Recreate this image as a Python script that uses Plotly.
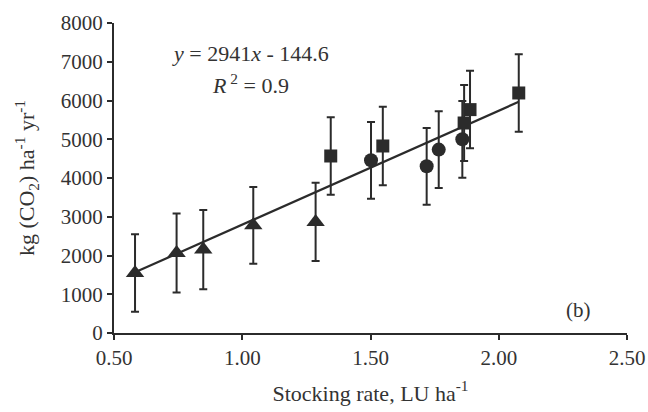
import plotly.graph_objects as go

# Data
tri_x = [0.582, 0.744, 0.848, 1.043, 1.286]
tri_y = [1548, 2065, 2152, 2779, 2865]
tri_err = [1000, 1020, 1020, 990, 1010]

cir_x = [1.502, 1.719, 1.766, 1.858]
cir_y = [4457, 4302, 4733, 4999]
cir_err = [990, 990, 990, 990]

sq_x = [1.345, 1.548, 1.865, 1.888, 2.078]
sq_y = [4568, 4826, 5419, 5765, 6194]
sq_err = [1000, 1010, 980, 1000, 1000]

slope = 2941
intercept = -144.6

all_x = tri_x + cir_x + sq_x
line_x = [min(all_x), max(all_x)]
line_y = [slope * v + intercept for v in line_x]

dark = "#2b2b2b"
font_family = "Liberation Serif, Times New Roman, serif"

fig = go.Figure()

fig.add_trace(go.Scatter(
    x=line_x, y=line_y, mode="lines",
    line=dict(color=dark, width=2.2), showlegend=False, hoverinfo="skip"))

def add_series(xs, ys, errs, symbol, size):
    fig.add_trace(go.Scatter(
        x=xs, y=ys, mode="markers",
        marker=dict(symbol=symbol, size=size, color=dark, line=dict(width=0)),
        error_y=dict(type="data", array=errs, visible=True, color=dark,
                     thickness=2, width=4),
        showlegend=False))

add_series(tri_x, tri_y, tri_err, "triangle-up", 16)
add_series(cir_x, cir_y, cir_err, "circle", 14)
add_series(sq_x, sq_y, sq_err, "square", 13)

fig.add_annotation(x=1.034, y=7220, xref="x", yref="y",
                   text="<i>y</i> = 2941<i>x</i> - 144.6", showarrow=False,
                   font=dict(family=font_family, size=22, color="#333"))
fig.add_annotation(x=1.034, y=6420, xref="x", yref="y",
                   text="<i>R</i><sup> 2</sup> = 0.9", showarrow=False,
                   font=dict(family=font_family, size=22, color="#333"))
fig.add_annotation(x=2.31, y=590, xref="x", yref="y",
                   text="(b)", showarrow=False,
                   font=dict(family=font_family, size=21, color="#333"))

fig.update_layout(
    width=648, height=412,
    margin=dict(l=114, r=21, t=23, b=79),
    plot_bgcolor="white", paper_bgcolor="white",
    font=dict(family=font_family, size=21, color="#333"),
    xaxis=dict(range=[0.5, 2.5], dtick=0.5, tick0=0.5, tickformat=".2f",
               showgrid=False, zeroline=False, showline=True, automargin=False,
               linecolor=dark, linewidth=2, ticks="outside", ticklen=5,
               tickwidth=2, tickcolor=dark,
               title=dict(text="Stocking rate, LU ha<sup>-1</sup>", standoff=16,
                          font=dict(size=22))),
    yaxis=dict(range=[0, 8000], dtick=1000, showgrid=False, zeroline=False,
               showline=True, automargin=False, linecolor=dark, linewidth=2,
               ticks="outside", ticklen=5, tickwidth=2, tickcolor=dark,
               title=dict(text="kg (CO<sub>2</sub>) ha<sup>-1</sup> yr<sup>-1</sup>",
                          standoff=20, font=dict(size=22))),
)

fig.write_html("out.html",
               config={"displayModeBar": False},
               post_script="document.body.style.margin='0';document.body.style.overflow='hidden';")
